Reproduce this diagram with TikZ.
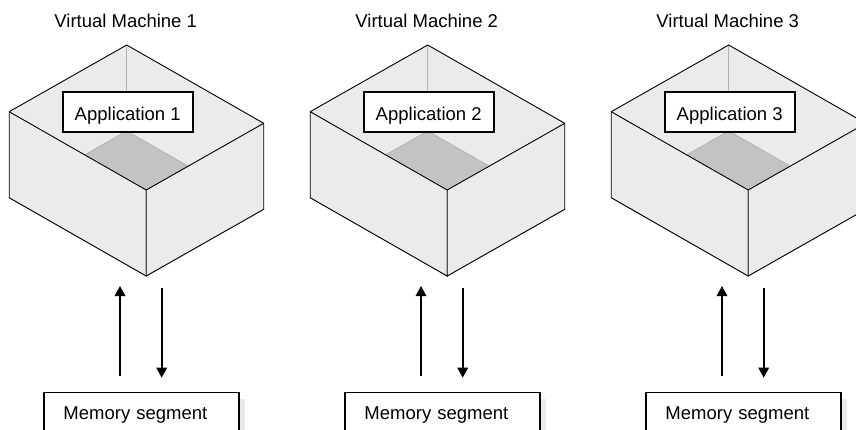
\documentclass[tikz,border=0pt]{standalone}
\usepackage{fontspec}
\setmainfont{Liberation Sans}
\usetikzlibrary{arrows.meta}
\definecolor{wallgray}{HTML}{EBEBEB}
\definecolor{floorgray}{HTML}{C3C3C3}
\definecolor{edgegray}{HTML}{B2B2B2}
\definecolor{shadegray}{HTML}{EAEAEA}
\tikzset{
  rim/.style={draw=black, line width=0.9pt, line join=miter},
  wallface/.style={fill=wallgray, rim},
  floorface/.style={fill=floorgray, draw=edgegray, line width=0.8pt},
  backedge/.style={draw=edgegray, line width=0.9pt},
  appbox/.style={draw=black, fill=white, line width=1.7pt, minimum width=130pt,
    minimum height=39.4pt, inner sep=0pt, text height=16pt, text depth=0pt,
    font=\fontsize{18.5}{22}\selectfont},
  vmtitle/.style={inner sep=0pt, anchor=base, font=\fontsize{18.5}{22}\selectfont},
  membox/.style={draw=black, fill=white, line width=1.5pt, anchor=north west,
    minimum width=195pt, text width=156.2pt, align=left, inner xsep=19.4pt,
    inner ysep=12.6pt, text height=14pt, text depth=40pt,
    font=\fontsize{18.5}{22}\selectfont},
  flow/.style={draw=black, line width=1.6pt, -{Triangle[width=10.5pt,length=10pt]}}
}
\begin{document}
\begin{tikzpicture}[x=1pt, y=-1pt]
\useasboundingbox (0,0) rectangle (856,429);
\foreach \i/\n in {0/1,1/2,2/3}{
  \begin{scope}[shift={(126.7+301*\i,45)}]
    % corners of the open box: rim (T,L,F,R) and floor (primed, 86 lower)
    \coordinate (T\n) at (0,0);
    \coordinate (L\n) at (-117.5,66.7);
    \coordinate (F\n) at (19.5,145);
    \coordinate (R\n) at (137,78.3);
    \coordinate (Tb\n) at (0,86);
    \coordinate (Lb\n) at (-117.5,152.7);
    \coordinate (Fb\n) at (19.5,231);
    \coordinate (Rb\n) at (137,164.3);
    % inside of the back walls
    \fill[wallgray] (T\n) -- (L\n) -- (F\n) -- (R\n) -- cycle;
    % floor
    \path[floorface] (Tb\n) -- (Lb\n) -- (Fb\n) -- (Rb\n) -- cycle;
    % inner back corner
    \path[backedge] (T\n) -- (Tb\n);
    % front walls
    \path[wallface] (L\n) -- (F\n) -- (Fb\n) -- (Lb\n) -- cycle;
    \path[wallface] (F\n) -- (R\n) -- (Rb\n) -- (Fb\n) -- cycle;
    % back rim
    \path[rim] (L\n) -- (T\n) -- (R\n);
    % labels
    \node[vmtitle] (vm\n) at (-1,-17.3) {Virtual Machine \n};
    \node[appbox] (app\n) at (1,67) {Application \n};
    % memory segment with its shadow
    \fill[shadegray] (-76.4,353.7) rectangle (118.6,400);
    \node[membox] (mem\n) at (-83.4,346.7) {Memory segment};
    % read / write arrows
    \coordinate (upS\n) at (-6.7,331);
    \coordinate (upE\n) at (-6.7,241);
    \coordinate (dnS\n) at (35,243.3);
    \coordinate (dnE\n) at (35,332.7);
    \draw[flow] (upS\n) -- (upE\n);
    \draw[flow] (dnS\n) -- (dnE\n);
  \end{scope}
}
\end{tikzpicture}
\end{document}
